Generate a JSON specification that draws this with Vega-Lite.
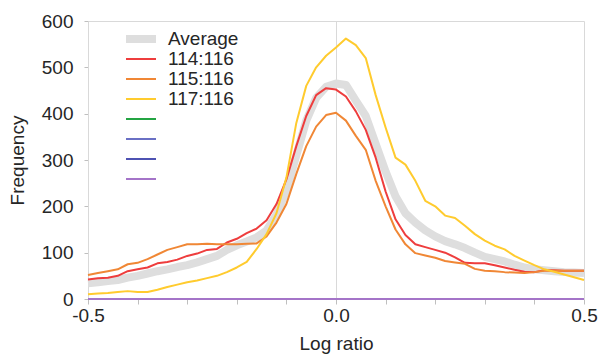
{
  "$schema": "https://vega.github.io/schema/vega-lite/v6.json",
  "width": 496,
  "height": 278,
  "autosize": "none",
  "padding": {"left": 88, "top": 21, "right": 17, "bottom": 57},
  "background": "white",
  "config": {
    "font": "Liberation Sans",
    "view": {"stroke": "#d9d9d9", "strokeWidth": 1}
  },
  "datasets": {
    "curves": [
      {"series": "Average", "ratio": -0.5, "freq": 34}, {"series": "Average", "ratio": -0.48, "freq": 36}, {"series": "Average", "ratio": -0.46, "freq": 39}, {"series": "Average", "ratio": -0.44, "freq": 41}, {"series": "Average", "ratio": -0.42, "freq": 46}, {"series": "Average", "ratio": -0.4, "freq": 50}, {"series": "Average", "ratio": -0.38, "freq": 55}, {"series": "Average", "ratio": -0.36, "freq": 60}, {"series": "Average", "ratio": -0.34, "freq": 64}, {"series": "Average", "ratio": -0.32, "freq": 69}, {"series": "Average", "ratio": -0.3, "freq": 73}, {"series": "Average", "ratio": -0.28, "freq": 79}, {"series": "Average", "ratio": -0.26, "freq": 86}, {"series": "Average", "ratio": -0.24, "freq": 93}, {"series": "Average", "ratio": -0.22, "freq": 106}, {"series": "Average", "ratio": -0.2, "freq": 116}, {"series": "Average", "ratio": -0.18, "freq": 124}, {"series": "Average", "ratio": -0.16, "freq": 133}, {"series": "Average", "ratio": -0.14, "freq": 148}, {"series": "Average", "ratio": -0.12, "freq": 182}, {"series": "Average", "ratio": -0.1, "freq": 235}, {"series": "Average", "ratio": -0.08, "freq": 310}, {"series": "Average", "ratio": -0.06, "freq": 385}, {"series": "Average", "ratio": -0.04, "freq": 434}, {"series": "Average", "ratio": -0.02, "freq": 458}, {"series": "Average", "ratio": 0, "freq": 465}, {"series": "Average", "ratio": 0.02, "freq": 462}, {"series": "Average", "ratio": 0.04, "freq": 428}, {"series": "Average", "ratio": 0.06, "freq": 395}, {"series": "Average", "ratio": 0.08, "freq": 335}, {"series": "Average", "ratio": 0.1, "freq": 275}, {"series": "Average", "ratio": 0.12, "freq": 222}, {"series": "Average", "ratio": 0.14, "freq": 185}, {"series": "Average", "ratio": 0.16, "freq": 165}, {"series": "Average", "ratio": 0.18, "freq": 148}, {"series": "Average", "ratio": 0.2, "freq": 135}, {"series": "Average", "ratio": 0.22, "freq": 125}, {"series": "Average", "ratio": 0.24, "freq": 118}, {"series": "Average", "ratio": 0.26, "freq": 110}, {"series": "Average", "ratio": 0.28, "freq": 100}, {"series": "Average", "ratio": 0.3, "freq": 91}, {"series": "Average", "ratio": 0.32, "freq": 86}, {"series": "Average", "ratio": 0.34, "freq": 81}, {"series": "Average", "ratio": 0.36, "freq": 74}, {"series": "Average", "ratio": 0.38, "freq": 68}, {"series": "Average", "ratio": 0.4, "freq": 64}, {"series": "Average", "ratio": 0.42, "freq": 62}, {"series": "Average", "ratio": 0.44, "freq": 60}, {"series": "Average", "ratio": 0.46, "freq": 58}, {"series": "Average", "ratio": 0.48, "freq": 57}, {"series": "Average", "ratio": 0.5, "freq": 56},

      {"series": "114:116", "ratio": -0.5, "freq": 42}, {"series": "114:116", "ratio": -0.48, "freq": 45}, {"series": "114:116", "ratio": -0.46, "freq": 46}, {"series": "114:116", "ratio": -0.44, "freq": 50}, {"series": "114:116", "ratio": -0.42, "freq": 60}, {"series": "114:116", "ratio": -0.4, "freq": 64}, {"series": "114:116", "ratio": -0.38, "freq": 68}, {"series": "114:116", "ratio": -0.36, "freq": 77}, {"series": "114:116", "ratio": -0.34, "freq": 80}, {"series": "114:116", "ratio": -0.32, "freq": 85}, {"series": "114:116", "ratio": -0.3, "freq": 93}, {"series": "114:116", "ratio": -0.28, "freq": 98}, {"series": "114:116", "ratio": -0.26, "freq": 106}, {"series": "114:116", "ratio": -0.24, "freq": 108}, {"series": "114:116", "ratio": -0.22, "freq": 122}, {"series": "114:116", "ratio": -0.2, "freq": 130}, {"series": "114:116", "ratio": -0.18, "freq": 142}, {"series": "114:116", "ratio": -0.16, "freq": 152}, {"series": "114:116", "ratio": -0.14, "freq": 170}, {"series": "114:116", "ratio": -0.12, "freq": 205}, {"series": "114:116", "ratio": -0.1, "freq": 258}, {"series": "114:116", "ratio": -0.08, "freq": 330}, {"series": "114:116", "ratio": -0.06, "freq": 395}, {"series": "114:116", "ratio": -0.04, "freq": 440}, {"series": "114:116", "ratio": -0.02, "freq": 455}, {"series": "114:116", "ratio": 0, "freq": 452}, {"series": "114:116", "ratio": 0.02, "freq": 437}, {"series": "114:116", "ratio": 0.04, "freq": 405}, {"series": "114:116", "ratio": 0.06, "freq": 365}, {"series": "114:116", "ratio": 0.08, "freq": 305}, {"series": "114:116", "ratio": 0.1, "freq": 232}, {"series": "114:116", "ratio": 0.12, "freq": 172}, {"series": "114:116", "ratio": 0.14, "freq": 138}, {"series": "114:116", "ratio": 0.16, "freq": 118}, {"series": "114:116", "ratio": 0.18, "freq": 112}, {"series": "114:116", "ratio": 0.2, "freq": 106}, {"series": "114:116", "ratio": 0.22, "freq": 100}, {"series": "114:116", "ratio": 0.24, "freq": 90}, {"series": "114:116", "ratio": 0.26, "freq": 78}, {"series": "114:116", "ratio": 0.28, "freq": 77}, {"series": "114:116", "ratio": 0.3, "freq": 77}, {"series": "114:116", "ratio": 0.32, "freq": 73}, {"series": "114:116", "ratio": 0.34, "freq": 68}, {"series": "114:116", "ratio": 0.36, "freq": 63}, {"series": "114:116", "ratio": 0.38, "freq": 59}, {"series": "114:116", "ratio": 0.4, "freq": 58}, {"series": "114:116", "ratio": 0.42, "freq": 62}, {"series": "114:116", "ratio": 0.44, "freq": 62}, {"series": "114:116", "ratio": 0.46, "freq": 61}, {"series": "114:116", "ratio": 0.48, "freq": 61}, {"series": "114:116", "ratio": 0.5, "freq": 61},

      {"series": "115:116", "ratio": -0.5, "freq": 52}, {"series": "115:116", "ratio": -0.48, "freq": 56}, {"series": "115:116", "ratio": -0.46, "freq": 60}, {"series": "115:116", "ratio": -0.44, "freq": 64}, {"series": "115:116", "ratio": -0.42, "freq": 75}, {"series": "115:116", "ratio": -0.4, "freq": 78}, {"series": "115:116", "ratio": -0.38, "freq": 86}, {"series": "115:116", "ratio": -0.36, "freq": 96}, {"series": "115:116", "ratio": -0.34, "freq": 106}, {"series": "115:116", "ratio": -0.32, "freq": 112}, {"series": "115:116", "ratio": -0.3, "freq": 118}, {"series": "115:116", "ratio": -0.28, "freq": 118}, {"series": "115:116", "ratio": -0.26, "freq": 119}, {"series": "115:116", "ratio": -0.24, "freq": 118}, {"series": "115:116", "ratio": -0.22, "freq": 118}, {"series": "115:116", "ratio": -0.2, "freq": 118}, {"series": "115:116", "ratio": -0.18, "freq": 119}, {"series": "115:116", "ratio": -0.16, "freq": 120}, {"series": "115:116", "ratio": -0.14, "freq": 135}, {"series": "115:116", "ratio": -0.12, "freq": 165}, {"series": "115:116", "ratio": -0.1, "freq": 205}, {"series": "115:116", "ratio": -0.08, "freq": 270}, {"series": "115:116", "ratio": -0.06, "freq": 330}, {"series": "115:116", "ratio": -0.04, "freq": 372}, {"series": "115:116", "ratio": -0.02, "freq": 397}, {"series": "115:116", "ratio": 0, "freq": 402}, {"series": "115:116", "ratio": 0.02, "freq": 385}, {"series": "115:116", "ratio": 0.04, "freq": 352}, {"series": "115:116", "ratio": 0.06, "freq": 322}, {"series": "115:116", "ratio": 0.08, "freq": 255}, {"series": "115:116", "ratio": 0.1, "freq": 200}, {"series": "115:116", "ratio": 0.12, "freq": 150}, {"series": "115:116", "ratio": 0.14, "freq": 118}, {"series": "115:116", "ratio": 0.16, "freq": 99}, {"series": "115:116", "ratio": 0.18, "freq": 94}, {"series": "115:116", "ratio": 0.2, "freq": 89}, {"series": "115:116", "ratio": 0.22, "freq": 82}, {"series": "115:116", "ratio": 0.24, "freq": 79}, {"series": "115:116", "ratio": 0.26, "freq": 76}, {"series": "115:116", "ratio": 0.28, "freq": 65}, {"series": "115:116", "ratio": 0.3, "freq": 61}, {"series": "115:116", "ratio": 0.32, "freq": 60}, {"series": "115:116", "ratio": 0.34, "freq": 58}, {"series": "115:116", "ratio": 0.36, "freq": 57}, {"series": "115:116", "ratio": 0.38, "freq": 56}, {"series": "115:116", "ratio": 0.4, "freq": 58}, {"series": "115:116", "ratio": 0.42, "freq": 61}, {"series": "115:116", "ratio": 0.44, "freq": 61}, {"series": "115:116", "ratio": 0.46, "freq": 61}, {"series": "115:116", "ratio": 0.48, "freq": 61}, {"series": "115:116", "ratio": 0.5, "freq": 61},

      {"series": "117:116", "ratio": -0.5, "freq": 10}, {"series": "117:116", "ratio": -0.48, "freq": 12}, {"series": "117:116", "ratio": -0.46, "freq": 13}, {"series": "117:116", "ratio": -0.44, "freq": 15}, {"series": "117:116", "ratio": -0.42, "freq": 17}, {"series": "117:116", "ratio": -0.4, "freq": 15}, {"series": "117:116", "ratio": -0.38, "freq": 15}, {"series": "117:116", "ratio": -0.36, "freq": 20}, {"series": "117:116", "ratio": -0.34, "freq": 26}, {"series": "117:116", "ratio": -0.32, "freq": 31}, {"series": "117:116", "ratio": -0.3, "freq": 36}, {"series": "117:116", "ratio": -0.28, "freq": 40}, {"series": "117:116", "ratio": -0.26, "freq": 45}, {"series": "117:116", "ratio": -0.24, "freq": 50}, {"series": "117:116", "ratio": -0.22, "freq": 58}, {"series": "117:116", "ratio": -0.2, "freq": 68}, {"series": "117:116", "ratio": -0.18, "freq": 80}, {"series": "117:116", "ratio": -0.16, "freq": 108}, {"series": "117:116", "ratio": -0.14, "freq": 140}, {"series": "117:116", "ratio": -0.12, "freq": 185}, {"series": "117:116", "ratio": -0.1, "freq": 262}, {"series": "117:116", "ratio": -0.08, "freq": 380}, {"series": "117:116", "ratio": -0.06, "freq": 460}, {"series": "117:116", "ratio": -0.04, "freq": 500}, {"series": "117:116", "ratio": -0.02, "freq": 525}, {"series": "117:116", "ratio": 0, "freq": 543}, {"series": "117:116", "ratio": 0.02, "freq": 562}, {"series": "117:116", "ratio": 0.04, "freq": 548}, {"series": "117:116", "ratio": 0.06, "freq": 520}, {"series": "117:116", "ratio": 0.08, "freq": 440}, {"series": "117:116", "ratio": 0.1, "freq": 370}, {"series": "117:116", "ratio": 0.12, "freq": 305}, {"series": "117:116", "ratio": 0.14, "freq": 290}, {"series": "117:116", "ratio": 0.16, "freq": 255}, {"series": "117:116", "ratio": 0.18, "freq": 212}, {"series": "117:116", "ratio": 0.2, "freq": 200}, {"series": "117:116", "ratio": 0.22, "freq": 180}, {"series": "117:116", "ratio": 0.24, "freq": 175}, {"series": "117:116", "ratio": 0.26, "freq": 158}, {"series": "117:116", "ratio": 0.28, "freq": 140}, {"series": "117:116", "ratio": 0.3, "freq": 126}, {"series": "117:116", "ratio": 0.32, "freq": 115}, {"series": "117:116", "ratio": 0.34, "freq": 107}, {"series": "117:116", "ratio": 0.36, "freq": 93}, {"series": "117:116", "ratio": 0.38, "freq": 83}, {"series": "117:116", "ratio": 0.4, "freq": 73}, {"series": "117:116", "ratio": 0.42, "freq": 64}, {"series": "117:116", "ratio": 0.44, "freq": 59}, {"series": "117:116", "ratio": 0.46, "freq": 53}, {"series": "117:116", "ratio": 0.48, "freq": 47}, {"series": "117:116", "ratio": 0.5, "freq": 41},

      {"series": "_5", "ratio": -0.5, "freq": 0}, {"series": "_5", "ratio": 0.5, "freq": 0},
      {"series": "_6", "ratio": -0.5, "freq": 0}, {"series": "_6", "ratio": 0.5, "freq": 0},
      {"series": "_7", "ratio": -0.5, "freq": 0}, {"series": "_7", "ratio": 0.5, "freq": 0},
      {"series": "_8", "ratio": -0.5, "freq": 0}, {"series": "_8", "ratio": 0.5, "freq": 0}
    ]
  },
  "data": {"name": "curves"},
  "encoding": {
    "x": {
      "field": "ratio",
      "type": "quantitative",
      "scale": {"domain": [-0.5, 0.5], "nice": false, "zero": false},
      "axis": {
        "values": [-0.5, -0.4, -0.3, -0.2, -0.1, 0, 0.1, 0.2, 0.3, 0.4, 0.5],
        "labelExpr": "datum.value < -0.49 ? '-0.5' : (datum.value > 0.49 ? '0.5' : (abs(datum.value) < 0.001 ? '0.0' : ''))",
        "labelOverlap": false,
        "labelFlush": false,
        "grid": true,
        "gridColor": "#d9d9d9",
        "gridOpacity": {"condition": {"test": "abs(datum.value) < 0.001", "value": 1}, "value": 0},
        "domainColor": "#d9d9d9",
        "tickColor": "#bfbfbf",
        "tickSize": 5,
        "labelFontSize": 19,
        "labelColor": "#262626",
        "labelPadding": 2,
        "title": "Log ratio",
        "titleFontSize": 19,
        "titleFontWeight": "normal",
        "titleColor": "#262626",
        "titlePadding": 9
      }
    },
    "y": {
      "field": "freq",
      "type": "quantitative",
      "scale": {"domain": [0, 600], "nice": false},
      "axis": {
        "values": [0, 100, 200, 300, 400, 500, 600],
        "grid": false,
        "domainColor": "#d9d9d9",
        "tickColor": "#bfbfbf",
        "tickSize": 4,
        "labelFontSize": 19,
        "labelColor": "#262626",
        "labelPadding": 11,
        "title": "Frequency",
        "titleFontSize": 19,
        "titleFontWeight": "normal",
        "titleColor": "#262626",
        "titlePadding": 14
      }
    },
    "color": {
      "field": "series",
      "type": "nominal",
      "scale": {
        "domain": ["Average", "114:116", "115:116", "117:116", "_5", "_6", "_7", "_8"],
        "range": ["#dedede", "#ee3d3d", "#f08735", "#ffcb2e", "#24a443", "#6a70c4", "#4e52b2", "#a474c8"]
      },
      "legend": {
        "orient": "none",
        "legendX": 34,
        "legendY": 8,
        "title": null,
        "symbolType": "stroke",
        "symbolSize": 900,
        "clipHeight": 20,
        "rowPadding": 0,
        "labelOffset": 8,
        "labelFontSize": 19,
        "labelColor": "#262626",
        "labelExpr": "test(/^_/, datum.value) ? '' : datum.label"
      }
    },
    "strokeWidth": {
      "field": "series",
      "type": "nominal",
      "scale": {
        "type": "ordinal",
        "domain": ["Average", "114:116", "115:116", "117:116", "_5", "_6", "_7", "_8"],
        "range": [8, 2, 2, 2, 2, 2, 2, 2]
      },
      "legend": {
        "orient": "none",
        "legendX": 34,
        "legendY": 8,
        "title": null,
        "symbolType": "stroke",
        "symbolSize": 900,
        "clipHeight": 20,
        "rowPadding": 0,
        "labelOffset": 8,
        "labelFontSize": 19,
        "labelColor": "#262626",
        "labelExpr": "test(/^_/, datum.value) ? '' : datum.label"
      }
    }
  },
  "layer": [
    {
      "transform": [{"filter": "datum.series == 'Average'"}],
      "mark": {"type": "line", "strokeCap": "butt", "strokeJoin": "round"}
    },
    {
      "transform": [{"filter": "datum.series == '114:116'"}],
      "mark": {"type": "line", "strokeJoin": "round"}
    },
    {
      "transform": [{"filter": "datum.series == '115:116'"}],
      "mark": {"type": "line", "strokeJoin": "round"}
    },
    {
      "transform": [{"filter": "datum.series == '117:116'"}],
      "mark": {"type": "line", "strokeJoin": "round"}
    },
    {
      "transform": [{"filter": "test(/^_[567]$/, datum.series)"}],
      "mark": {"type": "line", "strokeJoin": "round"}
    },
    {
      "transform": [{"filter": "datum.series == '_8'"}],
      "mark": {"type": "line", "strokeJoin": "round"}
    }
  ]
}
